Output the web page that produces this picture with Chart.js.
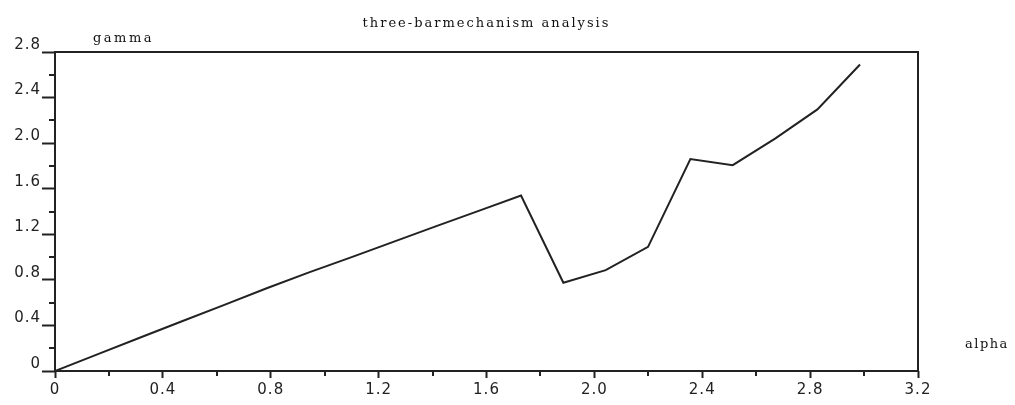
<!DOCTYPE html>
<html>
<head>
<meta charset="utf-8">
<title>three-barmechanism analysis</title>
<script src="https://cdn.jsdelivr.net/npm/chart.js@4.4.1/dist/chart.umd.min.js"></script>
<style>
  html, body { margin: 0; padding: 0; background: #ffffff; }
  #wrap { width: 1015px; height: 405px; }
</style>
</head>
<body>
<div id="wrap"><canvas id="c" width="1015" height="405"></canvas></div>
<script>
// Input crank angle (alpha) and resulting output angle (gamma), radians
const alpha = [0, 0.157, 0.314, 0.471, 0.628, 0.785, 0.942, 1.100, 1.257, 1.414,
               1.571, 1.728, 1.885, 2.042, 2.199, 2.356, 2.513, 2.670, 2.827, 2.985];
const gamma = [0, 0.146, 0.292, 0.437, 0.580, 0.726, 0.866, 1.000, 1.136, 1.272,
               1.406, 1.540, 0.775, 0.885, 1.090, 1.860, 1.807, 2.040, 2.296, 2.690];

// Axis tick labels
const xTickLabels = ['0', '0.4', '0.8', '1.2', '1.6', '2.0', '2.4', '2.8', '3.2'];
const yTickLabels = ['0', '0.4', '0.8', '1.2', '1.6', '2.0', '2.4', '2.8'];

const titleText = 'three-barmechanism analysis';
const xAxisName = 'alpha';
const yAxisName = 'gamma';

const INK = '#222222';

function labelFor(list, v) {
  const hit = list.find(s => Math.abs(Number(s) - v) < 1e-6);
  return hit === undefined ? '' : hit;
}
function isMajor(list, v) {
  return list.some(s => Math.abs(Number(s) - v) < 1e-6);
}

// Frame, minor ticks and the text around the plot
const framePlugin = {
  id: 'frame',
  beforeDraw(chart) {
    chart.ctx.letterSpacing = '1px';
  },
  afterDraw(chart) {
    const ctx = chart.ctx;
    const a = chart.chartArea;
    const xs = chart.scales.x, ys = chart.scales.y;
    ctx.save();
    ctx.letterSpacing = '0px';
    ctx.strokeStyle = INK;
    ctx.lineWidth = 2;
    ctx.beginPath();
    ctx.moveTo(a.left, a.top);
    ctx.lineTo(a.right, a.top);
    ctx.lineTo(a.right, a.bottom);
    ctx.lineTo(a.left, a.bottom);
    ctx.closePath();
    ctx.stroke();

    // minor tick marks
    ys.ticks.forEach(t => {
      if (isMajor(yTickLabels, t.value)) return;
      const p = Math.round(ys.getPixelForValue(t.value));
      ctx.beginPath();
      ctx.moveTo(a.left - 6, p);
      ctx.lineTo(a.left, p);
      ctx.stroke();
    });
    xs.ticks.forEach(t => {
      if (isMajor(xTickLabels, t.value)) return;
      const p = Math.round(xs.getPixelForValue(t.value));
      ctx.beginPath();
      ctx.moveTo(p, a.bottom);
      ctx.lineTo(p, a.bottom + 5);
      ctx.stroke();
    });

    // title and axis names
    ctx.fillStyle = '#111111';
    ctx.font = '13px "DejaVu Serif"';
    ctx.letterSpacing = '2px';
    ctx.textBaseline = 'alphabetic';
    ctx.textAlign = 'center';
    ctx.fillText(titleText, (a.left + a.right) / 2, 27);
    ctx.letterSpacing = '2.5px';
    ctx.textAlign = 'left';
    ctx.fillText(yAxisName, a.left + 38, 42);
    ctx.letterSpacing = '1.5px';
    ctx.fillText(xAxisName, a.right + 47, 348);
    ctx.restore();
    ctx.letterSpacing = '0px';
  }
};

new Chart(document.getElementById('c'), {
  type: 'line',
  data: {
    datasets: [{
      data: alpha.map((x, i) => ({ x, y: gamma[i] })),
      borderColor: INK,
      borderWidth: 2,
      pointRadius: 0,
      tension: 0,
      fill: false
    }]
  },
  options: {
    responsive: false,
    animation: false,
    layout: { padding: { top: 52, right: 97, left: 0, bottom: 0 } },
    plugins: {
      legend: { display: false },
      tooltip: { enabled: false },
      title: { display: false }
    },
    scales: {
      x: {
        type: 'linear',
        min: 0,
        max: 3.2,
        afterFit(s) { s.height = 34; },
        afterBuildTicks(s) {
          s.ticks = [];
          for (let i = 0; i <= 16; i++) s.ticks.push({ value: Number((i * 0.2).toFixed(1)) });
        },
        border: { display: false },
        grid: {
          drawOnChartArea: false,
          tickLength: 7,
          tickWidth: 2,
          tickColor: c => isMajor(xTickLabels, c.tick.value) ? INK : 'rgba(0,0,0,0)'
        },
        ticks: {
          autoSkip: false,
          maxRotation: 0,
          padding: 3,
          color: INK,
          font: { family: '"DejaVu Sans"', size: 15 },
          callback: v => labelFor(xTickLabels, v)
        }
      },
      y: {
        type: 'linear',
        min: 0,
        max: 2.8,
        afterFit(s) { s.width = 55; },
        afterBuildTicks(s) {
          s.ticks = [];
          for (let i = 0; i <= 14; i++) s.ticks.push({ value: Number((i * 0.2).toFixed(1)) });
        },
        border: { display: false },
        grid: {
          drawOnChartArea: false,
          tickLength: 13,
          tickWidth: 2,
          tickColor: c => isMajor(yTickLabels, c.tick.value) ? INK : 'rgba(0,0,0,0)'
        },
        ticks: {
          autoSkip: false,
          padding: 1,
          labelOffset: -7,
          color: INK,
          font: { family: '"DejaVu Sans"', size: 15 },
          callback: v => labelFor(yTickLabels, v)
        }
      }
    }
  },
  plugins: [framePlugin]
});
</script>
</body>
</html>
